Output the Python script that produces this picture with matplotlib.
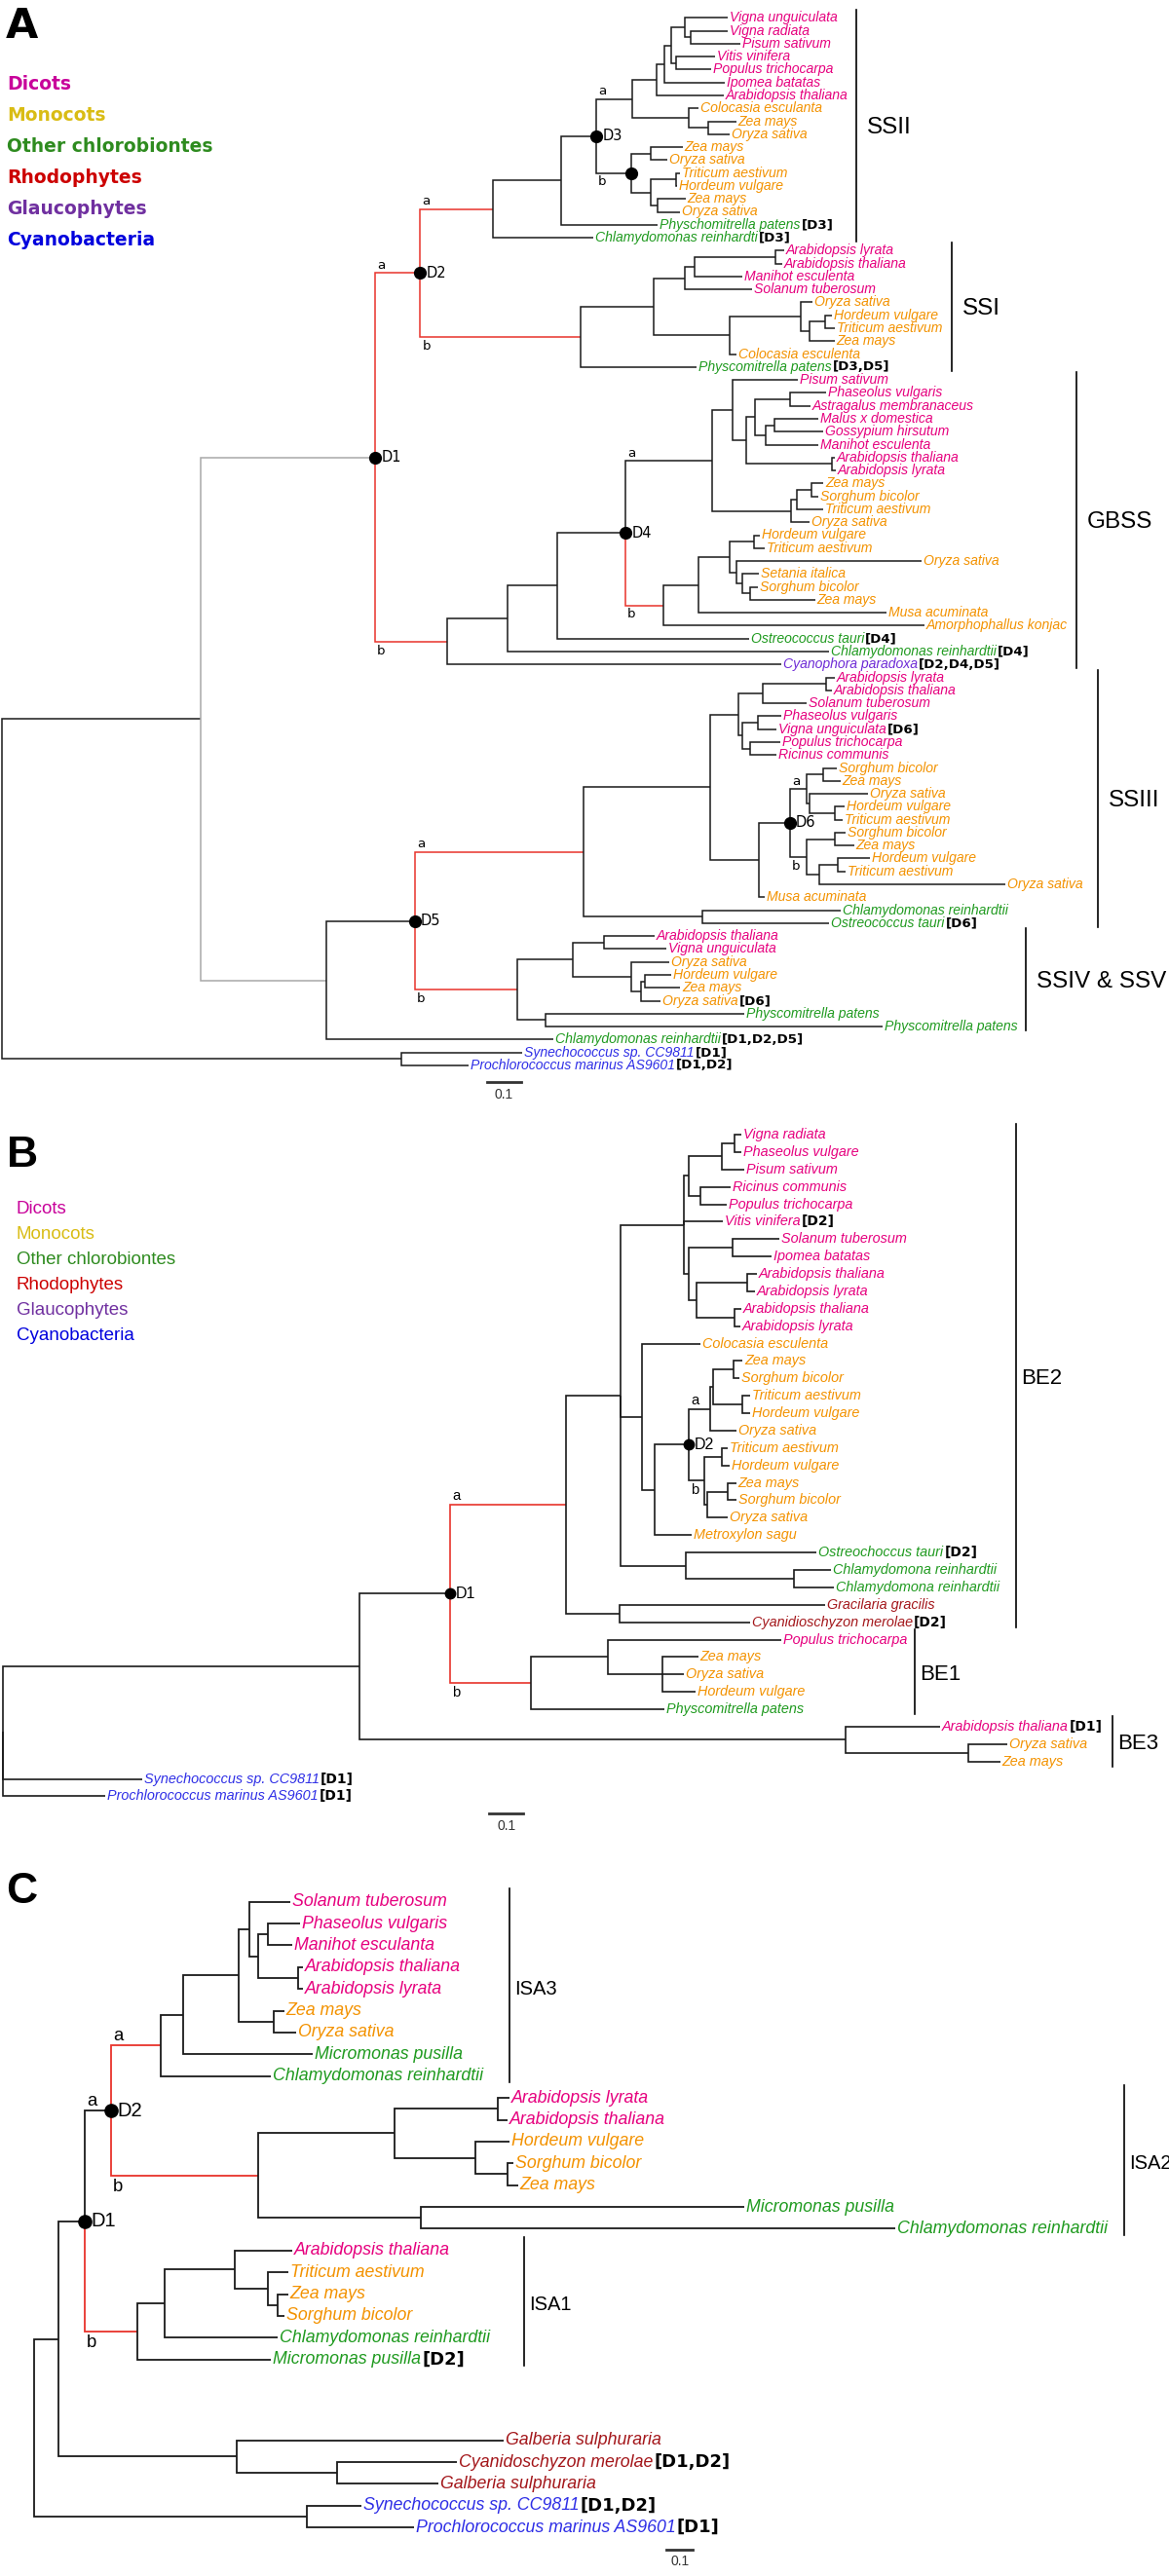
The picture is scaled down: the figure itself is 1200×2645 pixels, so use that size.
import matplotlib
matplotlib.use("Agg")
import matplotlib.pyplot as plt

W, H = 1200, 2645

# ---- shared colours -------------------------------------------------------
GROUP_COLORS = {"d": "#E6007E", "m": "#F39200", "g": "#1F9A1F",
                "r": "#A3161A", "p": "#6E2BD6", "c": "#2E2EE6"}
LEGEND_NAMES = ["Dicots", "Monocots", "Other chlorobiontes",
                "Rhodophytes", "Glaucophytes", "Cyanobacteria"]
LEGEND_COLORS = ["#C8009A", "#D9BC14", "#2E8B1F", "#CC0000", "#7030A0", "#0000DD"]
BLACK, RED, GRAY = "#1A1A1A", "#E8332B", "#A8A8A8"

# ---- panel A: starch synthases --------------------------------------------
A_LEAVES = [
    "Vigna unguiculata", "Vigna radiata", "Pisum sativum", "Vitis vinifera",
    "Populus trichocarpa", "Ipomea batatas", "Arabidopsis thaliana",
    "Colocasia esculanta", "Zea mays", "Oryza sativa", "Zea mays", "Oryza sativa",
    "Triticum aestivum", "Hordeum vulgare", "Zea mays", "Oryza sativa",
    "Physchomitrella patens", "Chlamydomonas reinhardti",
    "Arabidopsis lyrata", "Arabidopsis thaliana", "Manihot esculenta",
    "Solanum tuberosum", "Oryza sativa", "Hordeum vulgare", "Triticum aestivum",
    "Zea mays", "Colocasia esculenta", "Physcomitrella patens",
    "Pisum sativum", "Phaseolus vulgaris", "Astragalus membranaceus",
    "Malus x domestica", "Gossypium hirsutum", "Manihot esculenta",
    "Arabidopsis thaliana", "Arabidopsis lyrata", "Zea mays", "Sorghum bicolor",
    "Triticum aestivum", "Oryza sativa", "Hordeum vulgare", "Triticum aestivum",
    "Oryza sativa", "Setania italica", "Sorghum bicolor", "Zea mays",
    "Musa acuminata", "Amorphophallus konjac", "Ostreococcus tauri",
    "Chlamydomonas reinhardtii", "Cyanophora paradoxa",
    "Arabidopsis lyrata", "Arabidopsis thaliana", "Solanum tuberosum",
    "Phaseolus vulgaris", "Vigna unguiculata", "Populus trichocarpa",
    "Ricinus communis", "Sorghum bicolor", "Zea mays", "Oryza sativa",
    "Hordeum vulgare", "Triticum aestivum", "Sorghum bicolor", "Zea mays",
    "Hordeum vulgare", "Triticum aestivum", "Oryza sativa", "Musa acuminata",
    "Chlamydomonas reinhardtii", "Ostreococcus tauri",
    "Arabidopsis thaliana", "Vigna unguiculata", "Oryza sativa",
    "Hordeum vulgare", "Zea mays", "Oryza sativa", "Physcomitrella patens",
    "Physcomitrella patens", "Chlamydomonas reinhardtii",
    "Synechococcus sp. CC9811", "Prochlorococcus marinus AS9601",
]
A_GROUPS = list("ddddddd" "mmmmmmmmm" "gg" "dddd" "mmmmm" "g" "dddddddd"
                "mmmmmmmmmmmm" "gg" "p" "ddddddd" "mmmmmmmmmmm" "gg" "dd"
                "mmmm" "ggg" "cc")
A_TAGS = {16: "[D3]", 17: "[D3]", 27: "[D3,D5]", 48: "[D4]", 49: "[D4]",
          50: "[D2,D4,D5]", 55: "[D6]", 70: "[D6]", 76: "[D6]",
          79: "[D1,D2,D5]", 80: "[D1]", 81: "[D1,D2]"}

# newick pieces: leaves are indices, the number after ':' is the distance from the root
A_SSII_DICOTS = ("((((0:2.129,(1:2.129,2:2.166):2.020):2.003,(3:2.091,4:2.080):1.977):1.963,"
                 "5:2.120):1.943,6:2.117):1.920")
A_SSII_MONO = "(7:2.043,(8:2.154,9:2.134):2.071):2.014"
A_SSII_B = ("((10:1.997,11:1.951):1.903,((12:1.989,13:1.980):1.977,"
            "(14:2.006,15:1.989):1.923):1.903)*:1.846")
A_SSII = ("((((" + A_SSII_DICOTS + "," + A_SSII_MONO + "):1.849," + A_SSII_B
          + ")D3:1.743,16:1.923):1.640,17:1.734):1.440")
A_SSI_DICOTS = "(((18:2.294,19:2.289):2.269,20:2.171):2.031,21:2.200):2.003"
A_SSI_MONO = "((22:2.377,((23:2.434,24:2.443):2.414,25:2.443):2.369):2.343,26:2.154):2.134"
A_SSI = "((" + A_SSI_DICOTS + "," + A_SSI_MONO + "):1.911,27:2.037):1.697"
A_GBSS_PAM = ("((29:2.417,30:2.371):2.311,((31:2.394,32:2.409):2.266,"
              "33:2.394):2.240):2.209")
A_GBSS_DICOTS = "(28:2.334,(" + A_GBSS_PAM + ",(34:2.443,35:2.446):2.434):2.183):2.143"
A_GBSS_MONO = "(((36:2.409,37:2.394):2.374,38:2.409):2.331,39:2.369):2.314"
A_GBSS_B = ("((((40:2.223,41:2.237):2.206,(42:2.697,(43:2.220,(44:2.217,45:2.386):2.194)"
            ":2.171):2.154):2.134,46:2.594):2.043,47:2.706):1.940")
A_GBSS = ("(((((" + A_GBSS_DICOTS + "," + A_GBSS_MONO + "):2.083," + A_GBSS_B
          + ")D4:1.829,48:2.191):1.629,49:2.426):1.483,50:2.286):1.306")
A_SSIII_DICOTS = ("(((51:2.443,52:2.434):2.417,53:2.360):2.231,((54:2.286,55:2.271):2.217,"
                  "(56:2.283,57:2.271):2.194):2.171):2.160")
A_SSIII_D6 = ("(((58:2.449,59:2.460):2.409,(60:2.540,(61:2.471,62:2.466):2.443):2.369):2.360,"
              "((63:2.474,64:2.500):2.443,((65:2.546,66:2.474):2.451,67:2.943):2.397):2.360)D6:2.311")
A_SSIII = ("((" + A_SSIII_DICOTS + ",(" + A_SSIII_D6 + ",68:2.237):2.220):2.077,"
           "(69:2.460,70:2.426):2.054):1.706")
A_SSIV = ("(((71:1.914,72:1.949):1.766,(73:1.957,((74:1.963,75:1.989):1.886,76:1.931)"
          ":1.874):1.846):1.674,(77:2.177,78:2.583):1.594):1.511")
A_TREE = ("((((" + A_SSII + "," + A_SSI + ")D2:1.227," + A_GBSS + ")D1:1.094,"
          "((" + A_SSIII + "," + A_SSIV + ")D5:1.211,79:1.617):0.951)g:0.583,"
          "(80:1.526,81:1.369):1.171):0")
A_EDGES = {"D1": (RED, RED), "D2": (RED, RED), "D4": (BLACK, RED),
           "D5": (RED, RED), "g": (GRAY, GRAY)}
A_CLADES = [("SSII", 0, 17), ("SSI", 18, 27), ("GBSS", 28, 50),
            ("SSIII", 51, 70), ("SSIV & SSV", 71, 78)]

# ---- panel B: branching enzymes -------------------------------------------
B_LEAVES = [
    "Vigna radiata", "Phaseolus vulgare", "Pisum sativum", "Ricinus communis",
    "Populus trichocarpa", "Vitis vinifera", "Solanum tuberosum",
    "Ipomea batatas", "Arabidopsis thaliana", "Arabidopsis lyrata",
    "Arabidopsis thaliana", "Arabidopsis lyrata", "Colocasia esculenta",
    "Zea mays", "Sorghum bicolor", "Triticum aestivum", "Hordeum vulgare",
    "Oryza sativa", "Triticum aestivum", "Hordeum vulgare", "Zea mays",
    "Sorghum bicolor", "Oryza sativa", "Metroxylon sagu", "Ostreochoccus tauri",
    "Chlamydomona reinhardtii", "Chlamydomona reinhardtii", "Gracilaria gracilis",
    "Cyanidioschyzon merolae", "Populus trichocarpa", "Zea mays",
    "Oryza sativa", "Hordeum vulgare", "Physcomitrella patens",
    "Arabidopsis thaliana", "Oryza sativa", "Zea mays",
    "Synechococcus sp. CC9811", "Prochlorococcus marinus AS9601",
]
B_GROUPS = list("dddddddddddd" "mmmmmmmmmmmm" "ggg" "rr" "d" "mmm" "g" "d" "mm" "cc")
B_TAGS = {5: "[D2]", 24: "[D2]", 28: "[D2]", 34: "[D1]", 37: "[D1]", 38: "[D1]"}
B_DICOTS = ("((((0:2.166,1:2.166):2.146,2:2.174):2.109,(3:2.134,4:2.123):2.046):2.011,5:2.111,"
            "((6:2.277,7:2.254):2.140,((8:2.211,9:2.206):2.183,(10:2.166,11:2.163):2.146)"
            ":2.034):2.011):1.997")
B_D2 = ("((((13:2.169,14:2.160):2.143,(15:2.191,16:2.191):2.169):2.083,17:2.151):2.074,"
        "((18:2.126,19:2.131):2.109,((20:2.151,21:2.151):2.126,22:2.126):2.066):2.057)D2:2.011")
B_MONO = "(12:2.046,(" + B_D2 + ",23:2.020):1.911):1.874"
B_GREEN = "(24:2.386,(25:2.429,26:2.437):2.320):2.003"
B_BE2 = "((" + B_DICOTS + "," + B_MONO + "," + B_GREEN + "):1.811,(27:2.411,28:2.191):1.809):1.651"
B_BE1 = "((29:2.283,(30:2.040,31:1.997,32:2.031):1.934):1.774,33:1.940):1.549"
B_BE3 = "(34:2.749,(35:2.946,36:2.926):2.831):2.471"
B_TREE = "(((" + B_BE2 + "," + B_BE1 + ")D1:1.311," + B_BE3 + "):1.046,37:0.409,38:0.300):0"
B_EDGES = {"D1": (RED, RED)}
B_CLADES = [("BE2", 0, 28), ("BE1", 29, 33), ("BE3", 34, 36)]

# ---- panel C: isoamylases -------------------------------------------------
C_LEAVES = [
    "Solanum tuberosum", "Phaseolus vulgaris", "Manihot esculanta",
    "Arabidopsis thaliana", "Arabidopsis lyrata", "Zea mays", "Oryza sativa",
    "Micromonas pusilla", "Chlamydomonas reinhardtii", "Arabidopsis lyrata",
    "Arabidopsis thaliana", "Hordeum vulgare", "Sorghum bicolor", "Zea mays",
    "Micromonas pusilla", "Chlamydomonas reinhardtii", "Arabidopsis thaliana",
    "Triticum aestivum", "Zea mays", "Sorghum bicolor",
    "Chlamydomonas reinhardtii", "Micromonas pusilla", "Galberia sulphuraria",
    "Cyanidoschyzon merolae", "Galberia sulphuraria",
    "Synechococcus sp. CC9811", "Prochlorococcus marinus AS9601",
]
C_GROUPS = list("ddddd" "mm" "gg" "dd" "mmm" "gg" "d" "mmm" "gg" "rrr" "cc")
C_TAGS = {21: "[D2]", 23: "[D1,D2]", 25: "[D1,D2]", 26: "[D1]"}
C_ISA3 = ("((((0:0.974,((1:1.011,2:0.981):0.889,(3:1.022,4:1.022):1.004):0.852):0.819,"
          "(5:0.952,6:0.996):0.911):0.778,7:1.059):0.567,8:0.900):0.481")
C_ISA2 = ("(((9:1.807,10:1.800):1.763,(11:1.807,(12:1.822,13:1.841):1.800):1.678):1.370,"
          "(14:2.700,15:3.274):1.470):0.852")
C_ISA1 = ("(((16:0.981,(17:0.967,(18:0.967,19:0.952):0.926):0.889):0.763,20:0.926):0.496,"
          "21:0.900):0.393")
C_RHODO = "(22:1.785,(23:1.607,24:1.537):1.152):0.770"
C_TREE = ("((((" + C_ISA3 + "," + C_ISA2 + ")D2:0.293," + C_ISA1 + ")D1:0.193,"
          + C_RHODO + "):0.093,(25:1.244,26:1.444):1.037):0")
C_EDGES = {"D1": (BLACK, RED), "D2": (RED, RED)}
C_CLADES = [("ISA3", 0, 8), ("ISA2", 9, 15), ("ISA1", 16, 21)]

# ---- layout (pixel geometry of each panel) --------------------------------
NARROW = ["Liberation Sans Narrow", "Liberation Sans", "DejaVu Sans"]
LAYOUT = {
    "A": dict(top=0, bottom=1150, root=2, ppu=350, y0=18.3, step=13.28,
              gap_after=None, gap=0.0, leaf_fs=10.1, tag_fs=9.6, tag_font="DejaVu Sans",
              node_fs=10.5, node_font="DejaVu Sans", dot=8.5,
              clade_fs=17.5, clade_font="Liberation Sans",
              clade_x=[2.506, 2.786, 3.151, 3.214, 3.003], clade_pad=8,
              scale=(1.423, 1.3), lw=1.1),
    "B": dict(top=1150, bottom=1905, root=3, ppu=350, y0=1165, step=17.88,
              gap_after=None, gap=0.0, leaf_fs=10.4, tag_fs=10, tag_font="DejaVu Sans",
              node_fs=11.5, node_font="Liberation Sans", dot=7.5,
              clade_fs=16, clade_font=NARROW,
              clade_x=[2.971, 2.674, 3.254], clade_pad=4,
              scale=(1.426, 1.0), lw=1.2),
    "C": dict(top=1905, bottom=2645, root=35, ppu=270, y0=1952.7, step=22.38,
              gap_after=21, gap=2.71, leaf_fs=12.8, tag_fs=13, tag_font="DejaVu Sans",
              node_fs=14.5, node_font=NARROW, dot=9.5,
              clade_fs=14.5, clade_font=NARROW,
              clade_x=[1.807, 4.144, 1.863], clade_pad=3.5,
              scale=(2.404, 1.0), lw=1.3),
}


def parse_tree(s):
    pos = 0

    def read():
        nonlocal pos
        kids = []
        if s[pos] == "(":
            pos += 1
            kids.append(read())
            while s[pos] == ",":
                pos += 1
                kids.append(read())
            pos += 1
        start = pos
        while s[pos] != ":":
            pos += 1
        name = s[start:pos]
        pos += 1
        start = pos
        while pos < len(s) and s[pos] not in ",()":
            pos += 1
        return {"name": name, "x": float(s[start:pos]), "kids": kids}

    return read()


def draw_panel(fig, leaves, groups, tags, tree_str, edges, clades, lay):
    ax = fig.add_axes([0, 1 - lay["bottom"] / H, 1, (lay["bottom"] - lay["top"]) / H])
    ax.set_xlim(-lay["root"] / lay["ppu"], (W - lay["root"]) / lay["ppu"])
    ax.set_ylim((lay["bottom"] - lay["y0"]) / lay["step"], (lay["top"] - lay["y0"]) / lay["step"])
    ax.axis("off")

    def slot(i):
        if lay["gap_after"] is not None and i > lay["gap_after"]:
            return i + lay["gap"]
        return i

    root = parse_tree(tree_str)

    def place(node):
        if not node["kids"]:
            node["y"] = slot(int(node["name"]))
        else:
            for k in node["kids"]:
                place(k)
            node["y"] = (node["kids"][0]["y"] + node["kids"][-1]["y"]) / 2

    place(root)

    def draw(node):
        cols = edges.get(node["name"])
        for j, kid in enumerate(node["kids"]):
            col = BLACK
            if cols is not None:
                col = cols[0] if j == 0 else cols[-1]
            ax.plot([node["x"], node["x"], kid["x"]], [node["y"], kid["y"], kid["y"]],
                    color=col, lw=lay["lw"], solid_joinstyle="miter", solid_capstyle="butt")
            draw(kid)
        name = node["name"]
        if not node["kids"]:
            i = int(name)
            t = ax.annotate(leaves[i], xy=(node["x"], node["y"]), xytext=(1.2, 0),
                            textcoords="offset points", va="center", ha="left",
                            fontsize=lay["leaf_fs"], fontstyle="italic",
                            family="Liberation Sans", color=GROUP_COLORS[groups[i]])
            if i in tags:
                ax.annotate(tags[i], xy=(1, 0.5), xycoords=t, xytext=(1.0, 0),
                            textcoords="offset points", va="center", ha="left",
                            fontsize=lay["tag_fs"], fontweight="bold",
                            family=lay["tag_font"], color="black")
        elif name.startswith("D") or name == "*":
            ax.plot(node["x"], node["y"], "o", ms=lay["dot"], color="black", zorder=5)
            if name.startswith("D"):
                ax.annotate(name, xy=(node["x"], node["y"]), xytext=(4.5, 0),
                            textcoords="offset points", va="center", ha="left",
                            fontsize=lay["node_fs"], family=lay["node_font"])
                ax.annotate("a", xy=(node["x"], node["kids"][0]["y"]), xytext=(1.5, 1),
                            textcoords="offset points", va="bottom", ha="left",
                            fontsize=lay["node_fs"] * 0.92, family=lay["node_font"])
                ax.annotate("b", xy=(node["x"], node["kids"][-1]["y"]), xytext=(1.5, -2),
                            textcoords="offset points", va="top", ha="left",
                            fontsize=lay["node_fs"] * 0.92, family=lay["node_font"])

    draw(root)

    for (label, i0, i1), bx in zip(clades, lay["clade_x"]):
        ax.plot([bx, bx], [slot(i0) - 0.6, slot(i1) + 0.3], color="black", lw=1.2)
        ax.annotate(label, xy=(bx, (slot(i0) + slot(i1)) / 2), xytext=(lay["clade_pad"], 0),
                    textcoords="offset points", va="center", ha="left",
                    fontsize=lay["clade_fs"], family=lay["clade_font"])

    sx, sdy = lay["scale"]
    sy = slot(len(leaves) - 1) + sdy
    ax.plot([sx, sx + 0.1], [sy, sy], color="#333333", lw=2)
    ax.annotate("0.1", xy=(sx + 0.05, sy), xytext=(0, -4), textcoords="offset points",
                va="top", ha="center", fontsize=10, family=NARROW, color="#333333")
    return ax


fig = plt.figure(figsize=(W / 100, H / 100), dpi=100)
fig.patch.set_facecolor("white")

draw_panel(fig, A_LEAVES, A_GROUPS, A_TAGS, A_TREE, A_EDGES, A_CLADES, LAYOUT["A"])
draw_panel(fig, B_LEAVES, B_GROUPS, B_TAGS, B_TREE, B_EDGES, B_CLADES, LAYOUT["B"])
draw_panel(fig, C_LEAVES, C_GROUPS, C_TAGS, C_TREE, C_EDGES, C_CLADES, LAYOUT["C"])

# panel letters
fig.text(6 / W, 1 - 27 / H, "A", fontsize=31, fontweight="bold", va="center", ha="left")
fig.text(7 / W, 1 - 1186 / H, "B", fontsize=32, fontweight="bold", va="center", ha="left",
         family=NARROW)
fig.text(6 / W, 1 - 1942 / H, "C", fontsize=32, fontweight="bold", va="center", ha="left",
         family=NARROW)

# colour keys
for k, (name, col) in enumerate(zip(LEGEND_NAMES, LEGEND_COLORS)):
    fig.text(7 / W, 1 - (86 + 32.2 * k) / H, name, color=col, fontsize=13.5,
             fontweight="bold", family="DejaVu Sans", va="center", ha="left")
    fig.text(17 / W, 1 - (1242 + 25.8 * k) / H, name, color=col, fontsize=13.5,
             family=NARROW, va="center", ha="left")

fig.savefig("out.png", dpi=100, facecolor="white")
